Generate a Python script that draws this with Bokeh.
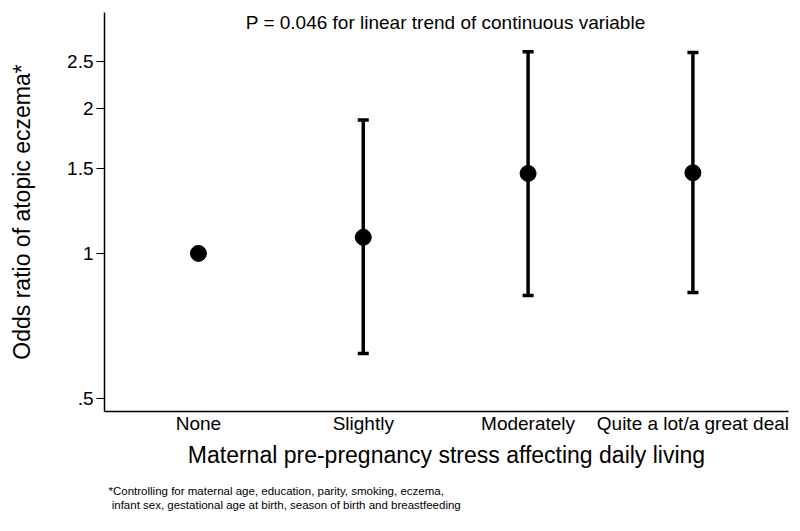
from bokeh.plotting import figure
from bokeh.models import (Range1d, FixedTicker, ColumnDataSource, Whisker, TeeHead,
                          Label, Title)
from bokeh.embed import file_html
from bokeh.resources import INLINE

categories = ["None", "Slightly", "Moderately", "Quite a lot/a great deal"]
odds_ratio = [1.0, 1.08, 1.465, 1.47]
ci_lower = [None, 0.62, 0.818, 0.83]
ci_upper = [None, 1.89, 2.62, 2.61]
y_ticks = [0.5, 1, 1.5, 2, 2.5]
y_tick_labels = [".5", "1", "1.5", "2", "2.5"]

FONT = "Liberation Sans"
xs = list(range(len(categories)))

p = figure(width=800, height=531, y_axis_type="log",
           x_range=Range1d(-0.57, 3.58), y_range=Range1d(0.47, 3.16),
           output_backend="svg", toolbar_location=None,
           min_border_left=104, min_border_right=12, min_border_top=12,
           min_border_bottom=120)
p.outline_line_color = None
p.xgrid.visible = False
p.ygrid.visible = False
p.background_fill_color = "white"
p.border_fill_color = "white"

# error bars
wx = [x for x, lo in zip(xs, ci_lower) if lo is not None]
wl = [lo for lo in ci_lower if lo is not None]
wu = [hi for hi in ci_upper if hi is not None]
wsrc = ColumnDataSource(dict(x=wx, lower=wl, upper=wu))
w = Whisker(source=wsrc, base="x", lower="lower", upper="upper",
            line_color="black", line_width=3.5,
            upper_head=TeeHead(size=11, line_width=3.5, line_color="black"),
            lower_head=TeeHead(size=11, line_width=3.5, line_color="black"))
p.add_layout(w)

psrc = ColumnDataSource(dict(x=xs, y=odds_ratio))
p.scatter("x", "y", source=psrc, size=16, color="black", marker="circle")

# axes
xa = p.xaxis[0]
xa.ticker = FixedTicker(ticks=xs)
xa.major_label_overrides = {i: c for i, c in zip(xs, categories)}
xa.major_tick_out = 0
xa.major_tick_in = 0
xa.minor_tick_out = 0
xa.minor_tick_in = 0
xa.major_label_standoff = 1
xa.major_label_text_font = FONT
xa.major_label_text_font_size = "19px"
xa.major_label_text_color = "black"
xa.axis_label = "Maternal pre-pregnancy stress affecting daily living"
xa.axis_label_text_font = FONT
xa.axis_label_text_font_size = "23px"
xa.axis_label_text_font_style = "normal"
xa.axis_label_text_color = "black"
xa.axis_label_standoff = 5
xa.axis_line_width = 1.5
xa.axis_line_color = "black"

ya = p.yaxis[0]
ya.ticker = FixedTicker(ticks=y_ticks)
ya.major_label_overrides = {t: l for t, l in zip(y_ticks, y_tick_labels)}
ya.major_tick_out = 8
ya.major_tick_in = 0
ya.minor_tick_out = 0
ya.minor_tick_in = 0
ya.major_tick_line_color = "black"
ya.major_label_standoff = 3
ya.major_label_text_font = FONT
ya.major_label_text_font_size = "19px"
ya.major_label_text_color = "black"
ya.axis_label = "Odds ratio of atopic eczema*"
ya.axis_label_text_font = FONT
ya.axis_label_text_font_size = "23px"
ya.axis_label_text_font_style = "normal"
ya.axis_label_text_color = "black"
ya.axis_label_standoff = 29
ya.axis_line_width = 1.5
ya.axis_line_color = "black"

# annotation inside plot
p.add_layout(Label(x=1.5, y=3.01, text="P = 0.046 for linear trend of continuous variable",
                   text_align="center", text_baseline="middle",
                   text_font=FONT, text_font_size="19px", text_color="black"))

# footnote
footnote = ("*Controlling for maternal age, education, parity, smoking, eczema,\n"
            "\u00a0infant sex, gestational age at birth, season of birth and breastfeeding")
t = Title(text=footnote, align="left", text_font=FONT, text_font_size="11.5px",
          text_font_style="normal", text_color="black", offset=4,
          standoff=25, text_line_height=1.2)
p.add_layout(t, "below")

open("out.html", "w").write(file_html(p, INLINE))
